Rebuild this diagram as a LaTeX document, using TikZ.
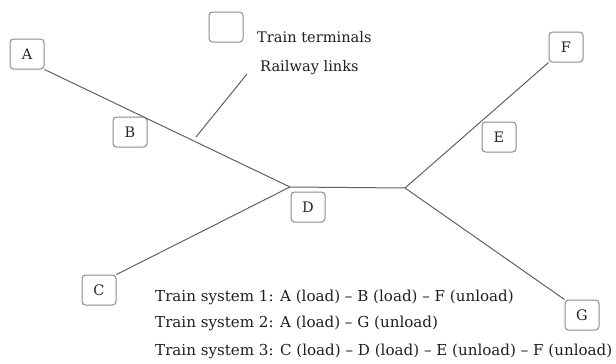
\documentclass[tikz,border=0pt]{standalone}
\usepackage{fontspec}
\setmainfont{DejaVu Serif}
\begin{document}
\begin{tikzpicture}[x=1pt,y=-1pt,
  term/.style={draw=black!45,line width=1pt,rounded corners=3.5pt,minimum width=34pt,minimum height=30pt,inner sep=0pt,font=\fontsize{14.5}{17}\selectfont,text=black!85},
  link/.style={draw=black!62,line width=1pt},
  lbl/.style={anchor=west,inner sep=0pt,font=\fontsize{14.6}{17}\selectfont,text=black!88},
  sys/.style={lbl,font=\fontsize{15.1}{17}\selectfont}]
\useasboundingbox (0,0) rectangle (616,364);
% terminals
\node[term] (A) at (27,54) {A};
\node[term] (B) at (130,132) {B};
\node[term] (C) at (99,290) {C};
\node[term] (D) at (308,207) {D};
\node[term] (E) at (499,137) {E};
\node[term] (F) at (566,47) {F};
\node[term] (G) at (582,315) {G};
\node[term] (K) at (226,27) {};
% junctions
\coordinate (J1) at (290,187);
\coordinate (J2) at (405,188);
% links
\draw[link] (A.south east) -- (J1);
\draw[link] (C.north east) -- (J1);
\draw[link] (J1) -- (J2);
\draw[link] (J2) -- (F.south west);
\draw[link] (J2) -- (G.north west);
% legend
\node[lbl] (T1) at (257,37) {Train terminals};
\node[lbl] (T2) at (260,68) {Railway links};
\coordinate (L1) at (247,74);
\coordinate (L2) at (196,137);
\draw[link] (L1) -- (L2);
% systems
\node[sys] (S1) at (155,297) {Train system 1: A (load) – B (load) – F (unload)};
\node[sys] (S2) at (155,323) {Train system 2: A (load) – G (unload)};
\node[sys] (S3) at (155,351) {Train system 3: C (load) – D (load) – E (unload) – F (unload)};
\end{tikzpicture}
\end{document}
